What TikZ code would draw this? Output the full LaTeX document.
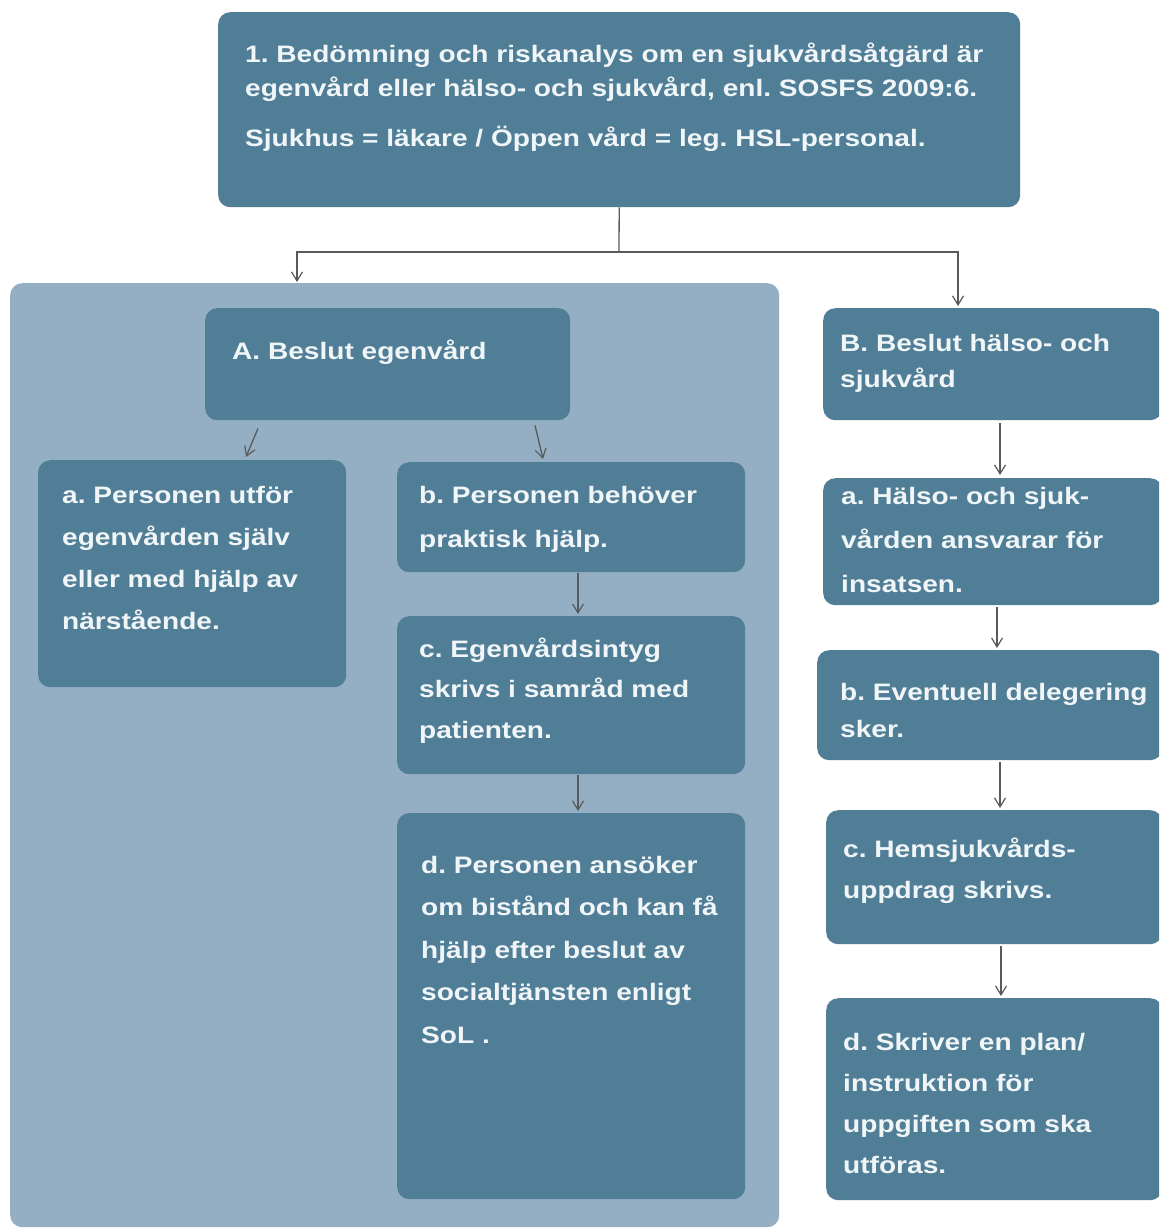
\documentclass[tikz,border=0pt]{standalone}
\usepackage{fontspec}
\setmainfont{Liberation Sans}[FakeStretch=1.18]
\usetikzlibrary{calc,arrows.meta}
\definecolor{boxc}{RGB}{80,126,150}
\definecolor{contc}{RGB}{148,175,195}
\definecolor{txtc}{RGB}{240,245,248}
\definecolor{arrc}{RGB}{90,90,90}
\frenchspacing
\newcommand\boxtext[2]{\parbox[t]{900pt}{\raggedright\fontsize{23.8pt}{#1}\selectfont\bfseries #2}}
\begin{document}
\begin{tikzpicture}[x=1pt,y=-1pt,
  box/.style={fill=boxc, rounded corners=12pt, draw=none, inner sep=0, anchor=north west},
  cont/.style={fill=contc, rounded corners=12pt, draw=none, inner sep=0, anchor=north west},
  txt/.style={anchor=base west, inner sep=0, text=txtc},
  ln/.style={draw=arrc, line width=1.3pt},
  arr/.style={draw=arrc, line width=1.3pt, -{Straight Barb[length=9pt,width=11pt,line width=1.2pt]}}]
\clip (0,0) rectangle (1159,1228);
\fill[white] (0,0) rectangle (1159,1228);
% boxes
\node[box, minimum width=802pt, minimum height=195pt] (top) at (218,12) {};
\node[cont, minimum width=769pt, minimum height=944pt] (cont) at (10,283) {};
\node[box, minimum width=365pt, minimum height=112pt] (A) at (205,308) {};
\node[box, minimum width=308pt, minimum height=227pt] (la) at (38,460) {};
\node[box, minimum width=348pt, minimum height=110pt] (lb) at (397,462) {};
\node[box, minimum width=348pt, minimum height=158pt] (lc) at (397,616) {};
\node[box, minimum width=348pt, minimum height=386pt] (ld) at (397,813) {};
\node[box, minimum width=339pt, minimum height=112pt] (B) at (823,308) {};
\node[box, minimum width=339pt, minimum height=127pt] (ra) at (823,478) {};
\node[box, minimum width=345pt, minimum height=110pt] (rb) at (817,650) {};
\node[box, minimum width=336pt, minimum height=134pt] (rc) at (826,810) {};
\node[box, minimum width=336pt, minimum height=202pt] (rd) at (826,998) {};
% texts
\node[txt] (ttop) at (245,63) {\boxtext{34pt}{1. Bedömning och riskanalys om en sjukvårdsåtgärd är\\
egenvård eller hälso- och sjukvård, enl. SOSFS 2009:6.\\[16pt]
Sjukhus = läkare / Öppen vård = leg. HSL-personal.}};
\node[txt] (tA) at (232,359) {\boxtext{40pt}{A. Beslut egenvård}};
\node[txt] (tla) at (62,503) {\boxtext{42.3pt}{a. Personen utför\\egenvården själv\\eller med hjälp av\\närstående.}};
\node[txt] (tlb) at (419,503) {\boxtext{44pt}{b. Personen behöver\\praktisk hjälp.}};
\node[txt] (tlc) at (419,657) {\boxtext{40.5pt}{c. Egenvårdsintyg\\skrivs i samråd med\\patienten.}};
\node[txt] (tld) at (421,873) {\boxtext{42.5pt}{d. Personen ansöker\\om bistånd och kan få\\hjälp efter beslut av\\socialtjänsten enligt\\SoL .}};
\node[txt] (tB) at (840,351) {\boxtext{36pt}{B. Beslut hälso- och\\sjukvård}};
\node[txt] (tra) at (841,504) {\boxtext{44pt}{a. Hälso- och sjuk-\\vården ansvarar för\\insatsen.}};
\node[txt] (trb) at (840,700) {\boxtext{37pt}{b. Eventuell delegering\\sker.}};
\node[txt] (trc) at (843,857) {\boxtext{41pt}{c. Hemsjukvårds-\\uppdrag skrivs.}};
\node[txt] (trd) at (843,1050) {\boxtext{41pt}{d. Skriver en plan/\\instruktion för\\uppgiften som ska\\utföras.}};
% connectors
\coordinate (j) at (619,252);
\draw[ln] (top.south) -- (j);
\draw[arr] (j) -| ($(cont.north west)+(287,-1)$);
\draw[arr] (j) -| ($(B.north west)+(135,-2)$);
\draw[arr] ($(A.south west)+(53,8)$) -- ($(la.north west)+(208,-3)$);
\draw[arr] ($(A.south west)+(330,5)$) -- ($(lb.north west)+(146,-3)$);
\draw[arr] ($(lb.south west)+(181,1)$) -- ($(lc.north west)+(181,-2)$);
\draw[arr] ($(lc.south west)+(181,1)$) -- ($(ld.north west)+(181,-2)$);
\draw[arr] ($(B.south west)+(177,3)$) -- ($(ra.north west)+(177,-3)$);
\draw[arr] ($(ra.south west)+(174,2)$) -- ($(rb.north west)+(180,-2)$);
\draw[arr] ($(rb.south west)+(183,2)$) -- ($(rc.north west)+(174,-2)$);
\draw[arr] ($(rc.south west)+(175,2)$) -- ($(rd.north west)+(175,-2)$);
\end{tikzpicture}
\end{document}
